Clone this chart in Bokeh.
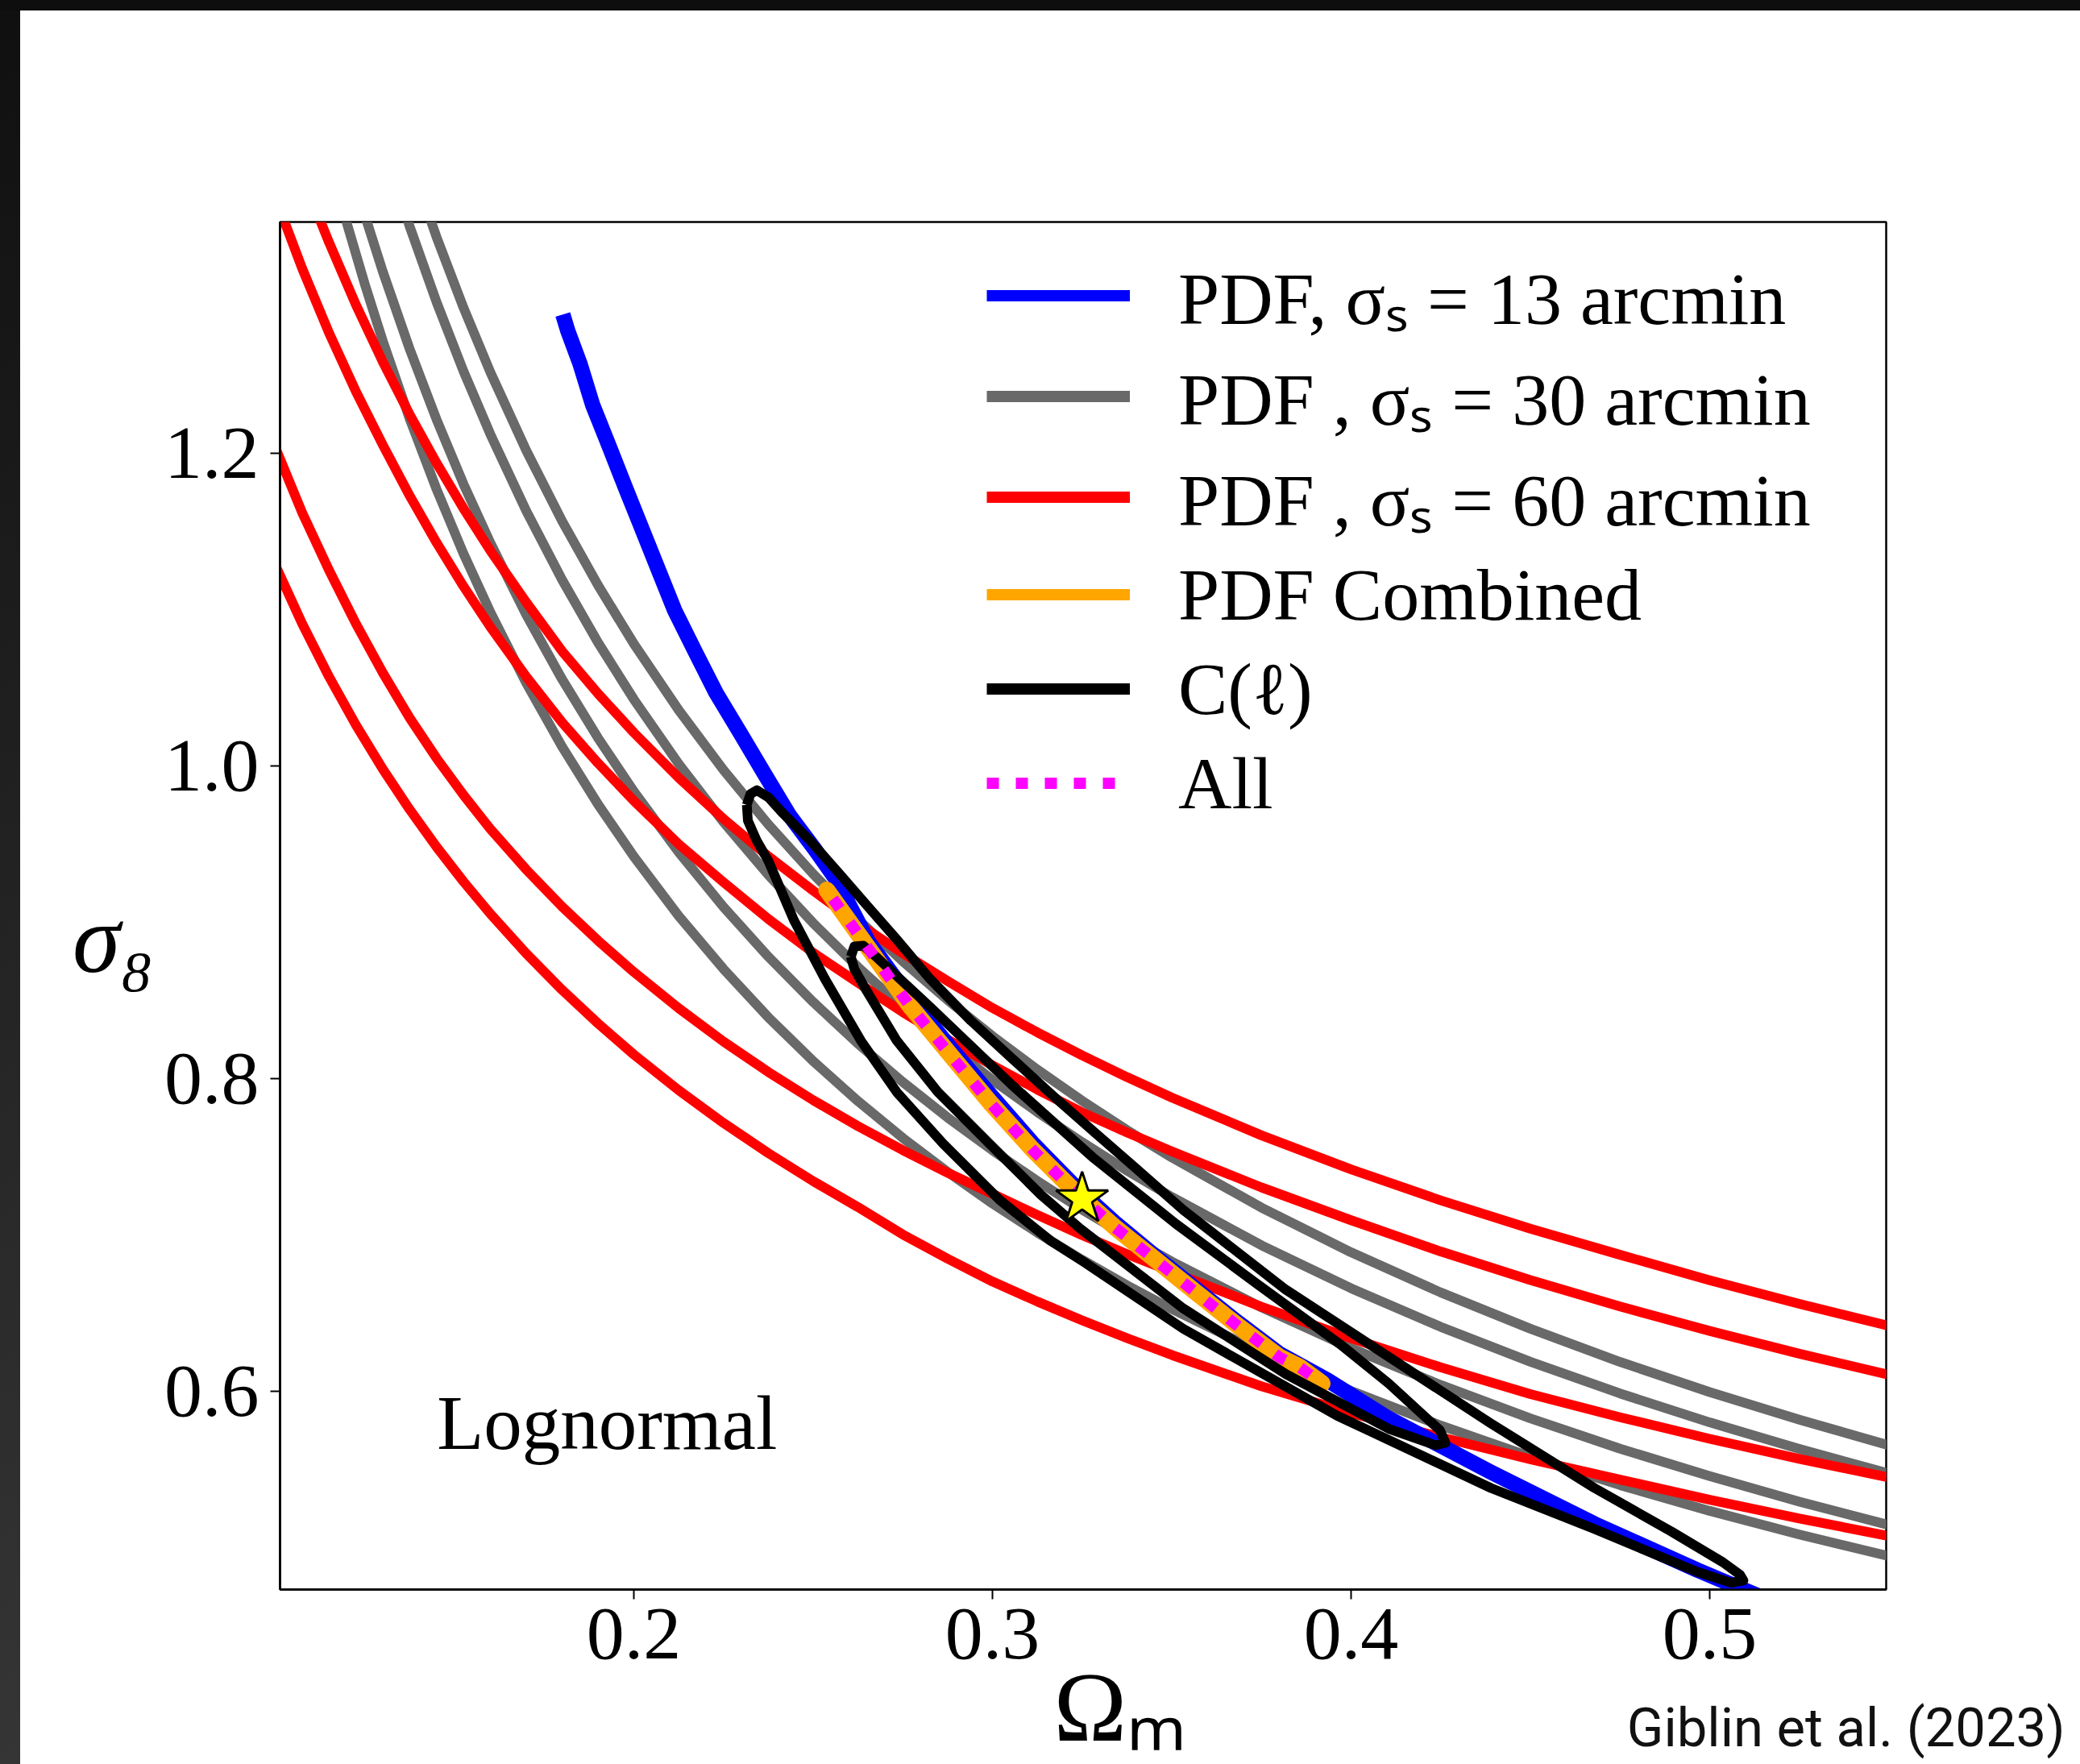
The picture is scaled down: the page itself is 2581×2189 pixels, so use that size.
from bokeh.plotting import figure
from bokeh.models import Range1d, FixedTicker, Label, Legend, LegendItem, Div, LinearAxis
from bokeh.layouts import column, row
from bokeh.embed import file_html
from bokeh.resources import INLINE

# ---------------- data ----------------
x_ticks = [0.2, 0.3, 0.4, 0.5]
x_tick_labels = ["0.2", "0.3", "0.4", "0.5"]
y_ticks = [0.6, 0.8, 1.0, 1.2]
y_tick_labels = ["0.6", "0.8", "1.0", "1.2"]

# PDF, sigma_s = 60 arcmin (red): two open contour levels -> four edges
red_x = [0.10, 0.1075, 0.115, 0.1225, 0.13, 0.1375, 0.145, 0.1525, 0.16, 0.17, 0.18, 0.19,
         0.2, 0.2125, 0.225, 0.2375, 0.25, 0.2625, 0.275, 0.2875, 0.3, 0.3125, 0.325,
         0.3375, 0.35, 0.375, 0.4, 0.425, 0.45, 0.475, 0.5, 0.525, 0.55]
red_1 = [1.1287, 1.0911, 1.0571, 1.0262, 0.9980, 0.9721, 0.9482, 0.9260, 0.9054, 0.8800,
         0.8567, 0.8353, 0.8154, 0.7926, 0.7716, 0.7523, 0.7344, 0.7178, 0.7003, 0.6848,
         0.6702, 0.6574, 0.6454, 0.6340, 0.6232, 0.6032, 0.5861, 0.5706, 0.5565, 0.5435,
         0.5306, 0.5186, 0.5074]
red_2 = [1.2039, 1.1621, 1.1252, 1.0910, 1.0596, 1.0307, 1.0049, 0.9814, 0.9596, 0.9337,
         0.9100, 0.8883, 0.8682, 0.8450, 0.8237, 0.8042, 0.7862, 0.7696, 0.7542, 0.7398,
         0.7263, 0.7128, 0.6999, 0.6878, 0.6764, 0.6541, 0.6339, 0.6153, 0.5982, 0.5834,
         0.5696, 0.5568, 0.5449]
red_3 = [1.3640, 1.3183, 1.2770, 1.2395, 1.2053, 1.1728, 1.1428, 1.1149, 1.0889, 1.0571,
         1.0278, 1.0018, 0.9777, 0.9500, 0.9256, 0.9021, 0.8805, 0.8613, 0.8425, 0.8250,
         0.8085, 0.7930, 0.7784, 0.7656, 0.7535, 0.7304, 0.7094, 0.6894, 0.6711, 0.6542,
         0.6386, 0.6240, 0.6105]
red_4x = [0.1075, 0.115, 0.1225, 0.13, 0.1375, 0.145, 0.1525, 0.16, 0.17, 0.18, 0.19,
          0.2, 0.2125, 0.225, 0.2375, 0.25, 0.2625, 0.275, 0.2875, 0.3, 0.3125, 0.325,
          0.3375, 0.35, 0.375, 0.4, 0.425, 0.45, 0.475, 0.5, 0.525, 0.55]
red_4 = [1.3777, 1.3349, 1.2950, 1.2585, 1.2248, 1.1937, 1.1647, 1.1377, 1.1047, 1.0734,
         1.0463, 1.0213, 0.9925, 0.9661, 0.9422, 0.9202, 0.8992, 0.8802, 0.8624, 0.8452,
         0.8296, 0.8149, 0.8010, 0.7879, 0.7637, 0.7419, 0.7221, 0.7040, 0.6873, 0.6710,
         0.6559, 0.6418]

# PDF, sigma_s = 30 arcmin (grey)
grey_x = [0.115, 0.12, 0.125, 0.13, 0.1375, 0.145, 0.1525, 0.16, 0.17, 0.18, 0.19, 0.2,
          0.2125, 0.225, 0.2375, 0.25, 0.2625, 0.275, 0.2875, 0.3, 0.3125, 0.325, 0.3375,
          0.35, 0.375, 0.4, 0.425, 0.45, 0.475, 0.5, 0.525, 0.55]
grey_1 = [1.3891, 1.3470, 1.3080, 1.2718, 1.2220, 1.1769, 1.1358, 1.0983, 1.0530, 1.0123,
          0.9755, 0.9420, 0.9041, 0.8701, 0.8392, 0.8112, 0.7856, 0.7620, 0.7403, 0.7201,
          0.7015, 0.6841, 0.6678, 0.6526, 0.6248, 0.6002, 0.5781, 0.5581, 0.5400, 0.5235,
          0.5084, 0.4945]
grey_2 = [1.4323, 1.3908, 1.3522, 1.3162, 1.2666, 1.2215, 1.1803, 1.1426, 1.0967, 1.0554,
          1.0179, 0.9837, 0.9449, 0.9098, 0.8780, 0.8490, 0.8223, 0.7978, 0.7751, 0.7541,
          0.7345, 0.7162, 0.6991, 0.6830, 0.6537, 0.6275, 0.6040, 0.5827, 0.5633, 0.5457,
          0.5294, 0.5144]
grey_3x = [0.13, 0.1375, 0.145, 0.1525, 0.16, 0.17, 0.18, 0.19, 0.2, 0.2125, 0.225, 0.2375,
           0.25, 0.2625, 0.275, 0.2875, 0.3, 0.3125, 0.325, 0.3375, 0.35, 0.375, 0.4, 0.425,
           0.45, 0.475, 0.5, 0.525, 0.55]
grey_3 = [1.3983, 1.3450, 1.2966, 1.2525, 1.2121, 1.1631, 1.1190, 1.0790, 1.0426, 1.0013,
          0.9641, 0.9303, 0.8995, 0.8713, 0.8454, 0.8214, 0.7992, 0.7786, 0.7593, 0.7412,
          0.7243, 0.6934, 0.6659, 0.6412, 0.6189, 0.5986, 0.5801, 0.5631, 0.5474]
grey_4x = [0.1375, 0.145, 0.1525, 0.16, 0.17, 0.18, 0.19, 0.2, 0.2125, 0.225, 0.2375, 0.25,
           0.2625, 0.275, 0.2875, 0.3, 0.3125, 0.325, 0.3375, 0.35, 0.375, 0.4, 0.425, 0.45,
           0.475, 0.5, 0.525, 0.55]
grey_4 = [1.3874, 1.3382, 1.2931, 1.2518, 1.2018, 1.1566, 1.1156, 1.0781, 1.0357, 0.9974,
          0.9626, 0.9309, 0.9018, 0.8750, 0.8502, 0.8272, 0.8058, 0.7858, 0.7671, 0.7496,
          0.7175, 0.6889, 0.6632, 0.6400, 0.6188, 0.5995, 0.5818, 0.5654]

# PDF, sigma_s = 13 arcmin (blue), narrow band
blue_x = [0.1802, 0.1816, 0.185, 0.1885, 0.1931, 0.1976, 0.2022, 0.2068, 0.2114,
          0.2171, 0.2229, 0.2298, 0.2366, 0.2435, 0.2504, 0.2561, 0.2653, 0.2768,
          0.2882, 0.2997, 0.3111, 0.3226, 0.3341, 0.3456, 0.357, 0.3685, 0.38,
          0.3933, 0.4105, 0.4391, 0.4678, 0.4965, 0.5094, 0.52]
blue_y = [1.2888, 1.2782, 1.2572, 1.231, 1.2046, 1.1783, 1.152, 1.1257, 1.0994,
          1.0731, 1.0468, 1.0205, 0.9942, 0.968, 0.9469, 0.9285, 0.888, 0.852,
          0.820, 0.789, 0.759, 0.732, 0.708, 0.686, 0.665, 0.644, 0.624,
          0.6073, 0.5826, 0.5481, 0.5153, 0.4857, 0.4732, 0.463]

# PDF combined (orange) and All (magenta)
comb_x = [0.2538, 0.2653, 0.2768, 0.2882, 0.2997, 0.3111, 0.3226, 0.3341,
          0.3456, 0.357, 0.3685, 0.38, 0.3857, 0.3919]
comb_y = [0.9206, 0.8838, 0.847, 0.8154, 0.7838, 0.7549, 0.7286, 0.705,
          0.6839, 0.6628, 0.6418, 0.622, 0.6155, 0.605]
all_x = [0.2555, 0.2653, 0.2768, 0.2882, 0.2997, 0.3111, 0.3226, 0.3341,
         0.3456, 0.357, 0.3685, 0.38, 0.3857, 0.3915]
all_y = [0.915, 0.8835, 0.847, 0.8152, 0.7836, 0.7547, 0.7284, 0.7048,
         0.6837, 0.6626, 0.6416, 0.6218, 0.6153, 0.6057]

# C(l) (black): closed 95% and 68% contours
cl95_x = [0.2315, 0.2325, 0.2343, 0.2375, 0.2412, 0.2492, 0.2573, 0.2653, 0.2733,
          0.2825, 0.294, 0.3054, 0.3169, 0.3283, 0.3398, 0.3532, 0.3818, 0.4105,
          0.4391, 0.4678, 0.4893, 0.5037, 0.5085, 0.5094, 0.5060, 0.4965, 0.4678,
          0.4391, 0.3962, 0.3532, 0.326, 0.3163, 0.302, 0.2862, 0.2733, 0.2633,
          0.2533, 0.2447, 0.2375, 0.2343, 0.2318, 0.2315]
cl95_y = [0.975, 0.982, 0.9845, 0.980, 0.9706, 0.9521, 0.9311, 0.910, 0.889,
          0.864, 0.837, 0.813, 0.789, 0.766, 0.743, 0.716, 0.665, 0.622,
          0.5793, 0.5382, 0.5103, 0.4906, 0.4825, 0.4790, 0.4775, 0.4845, 0.512,
          0.538, 0.5843, 0.640, 0.682, 0.6961, 0.7224, 0.7585, 0.7914, 0.8243,
          0.8637, 0.901, 0.9393, 0.952, 0.965, 0.975]
cl68_x = [0.2605, 0.2615, 0.2640, 0.2680, 0.2825, 0.3054, 0.3283, 0.3512, 0.3742,
          0.397, 0.4105, 0.4200, 0.4248, 0.4263, 0.4235, 0.4105, 0.3818, 0.3532,
          0.3245, 0.3135, 0.2991, 0.2848, 0.2733, 0.2647, 0.2615, 0.2605]
cl68_y = [0.878, 0.8845, 0.885, 0.877, 0.846, 0.796, 0.749, 0.707, 0.668,
          0.630, 0.605, 0.585, 0.575, 0.567, 0.5655, 0.576, 0.611, 0.653,
          0.704, 0.7257, 0.7585, 0.7914, 0.8243, 0.857, 0.870, 0.878]

star_x = [0.325]
star_y = [0.723]

legend_labels = ["PDF, σₛ = 13 arcmin", "PDF , σₛ = 30 arcmin", "PDF , σₛ = 60 arcmin",
                 "PDF Combined", "C(ℓ)", "All"]
credit_x = [0.538]
credit_label = ["Giblin et al. (2023)"]

# ---------------- figure ----------------
p = figure(frame_width=1993, frame_height=1697,
           x_range=Range1d(0.10135, 0.5492), y_range=Range1d(0.4732, 1.3479),
           output_backend="svg", toolbar_location=None,
           min_border_left=322, min_border_right=241,
           min_border_top=262, min_border_bottom=217)
p.background_fill_color = "white"
p.border_fill_color = "white"
p.grid.visible = False
p.outline_line_color = "black"
p.outline_line_width = 2.5
p.outline_line_alpha = 1.0

for ax, ticks, labels in ((p.xaxis, x_ticks, x_tick_labels), (p.yaxis, y_ticks, y_tick_labels)):
    ax.ticker = FixedTicker(ticks=ticks)
    ax.major_label_overrides = {t: l for t, l in zip(ticks, labels)}
    ax.minor_tick_line_color = None
    ax.major_tick_out = 12
    ax.major_tick_in = 0
    ax.major_tick_line_width = 2
    ax.axis_line_width = 2.5
    ax.major_label_text_font = "Liberation Serif"
    ax.major_label_text_font_size = "94px"
    ax.major_label_text_color = "black"
p.xaxis.major_label_standoff = 12
p.yaxis.major_label_standoff = 14

# axis titles
p.yaxis.axis_label = "\nσ₈"
p.yaxis.axis_label_orientation = "horizontal"
p.yaxis.axis_label_text_font = "Liberation Serif"
p.yaxis.axis_label_text_font_style = "italic"
p.yaxis.axis_label_text_font_size = "120px"
p.yaxis.axis_label_text_line_height = 0.62
p.yaxis.axis_label_standoff = 10
p.yaxis.axis_label_text_color = "black"

p.xaxis.axis_label = "\u00a0\u00a0\u00a0Ωₘ"
p.xaxis.axis_label_text_font = "Liberation Serif"
p.xaxis.axis_label_text_font_style = "normal"
p.xaxis.axis_label_text_font_size = "122px"
p.xaxis.axis_label_standoff = -10
p.xaxis.axis_label_text_color = "black"

# credit line as an extra, tick-less bottom axis
credit_axis = LinearAxis(ticker=FixedTicker(ticks=credit_x),
                         major_label_overrides={credit_x[0]: credit_label[0]},
                         axis_line_color=None, major_tick_line_color=None,
                         minor_tick_line_color=None, major_tick_out=0, major_tick_in=0,
                         major_label_standoff=-84, major_label_text_font="Roboto",
                         major_label_text_font_size="67px",
                         major_label_text_color="#111111")
p.add_layout(credit_axis, "below")

LW = 12
GREY = "#696969"
for gx, gy in ((grey_x, grey_1), (grey_x, grey_2), (grey_3x, grey_3), (grey_4x, grey_4)):
    p.line(gx, gy, line_color=GREY, line_width=LW, line_join="round")
for rx, ry in ((red_x, red_1), (red_x, red_2), (red_x, red_3), (red_4x, red_4)):
    p.line(rx, ry, line_color="#ff0000", line_width=LW, line_join="round")
p.line(blue_x, blue_y, line_color="#0000ff", line_width=19, line_join="round")
p.line(comb_x, comb_y, line_color="#ffa500", line_width=21, line_cap="round", line_join="round")
p.line(cl95_x, cl95_y, line_color="black", line_width=LW, line_join="round")
p.line(cl68_x, cl68_y, line_color="black", line_width=LW, line_join="round")
p.line(all_x, all_y, line_color="#ff00ff", line_width=14, line_dash="15 21")
p.scatter(star_x, star_y, marker="star", size=68, fill_color="yellow",
          line_color="black", line_width=3)

# legend handles: one-point lines (draw nothing in the plot) with legend-sized widths
handle_data = [(blue_x, blue_y), (grey_x, grey_1), (red_x, red_1),
               (comb_x, comb_y), (cl95_x, cl95_y), (all_x, all_y)]
styles = [dict(line_color="#0000ff"), dict(line_color=GREY), dict(line_color="#ff0000"),
          dict(line_color="#ffa500"), dict(line_color="black"),
          dict(line_color="#ff00ff", line_dash="15 21")]
handles = [p.line(hx[:1], hy[:1], line_width=14, **s) for (hx, hy), s in zip(handle_data, styles)]
legend = Legend(items=[LegendItem(label=l, renderers=[r]) for l, r in zip(legend_labels, handles)],
                location=(877, 942), orientation="vertical",
                glyph_width=178, glyph_height=117, label_height=117,
                label_standoff=60, spacing=0, padding=0, margin=0,
                border_line_color=None, background_fill_alpha=0.0,
                label_text_font="Liberation Serif", label_text_font_size="92px",
                label_text_color="black")
p.add_layout(legend)

p.add_layout(Label(x=0.1451, y=0.5794, text="Lognormal", text_font="Liberation Serif",
                   text_font_size="95px", text_baseline="middle", text_align="left",
                   text_color="black"))

top_bar = Div(text="", width=2581, height=13, margin=0,
              styles={"background-color": "#0e0e0e"})
left_bar = Div(text="", width=25, height=2176, margin=0,
               styles={"background": "linear-gradient(#101010, #353535)"})
layout = column(top_bar, row(left_bar, p, spacing=0), spacing=0)

with open("out.html", "w") as f:
    f.write(file_html(layout, INLINE))
